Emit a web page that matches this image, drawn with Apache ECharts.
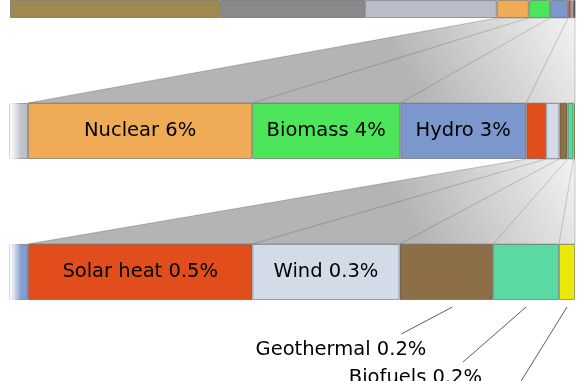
<!DOCTYPE html>
<html>
<head>
<meta charset="utf-8">
<script src="https://cdn.jsdelivr.net/npm/echarts@6/dist/echarts.min.js"></script>
<style>
html,body{margin:0;padding:0;background:#fff;}
#c{width:587px;height:381px;}
</style>
</head>
<body>
<div id="c"></div>
<script>
// ---- data ----
const categories = ['Oil', 'Coal', 'Natural gas', 'Nuclear', 'Biomass', 'Hydro', 'Solar heat', 'Wind', 'Geothermal', 'Biofuels', 'Solar PV'];
const shares = [38.2, 26.1, 23.9, 5.8, 3.83, 3.26, 0.518, 0.34, 0.216, 0.152, 0.037];
const shareLabels = ['', '', '', '6%', '4%', '3%', '0.5%', '0.3%', '0.2%', '0.2%', '0.04%'];
const colors = ['#a0894f', '#898989', '#b9bdc7', '#efab55', '#4de55a', '#7b97cb', '#e24e1b', '#d3dbe9', '#8d6f47', '#5bd9a2', '#ebe90b'];

// ---- layout / style ----
const GRID_LEFT = 10, GRID_WIDTH = 565;
const LEAD_RATIO = 18 / 547;
const bars = [
  { top: -10, height: 28, startCat: 0, labelled: [] },
  { top: 103, height: 56, startCat: 3, labelled: [3, 4, 5] },
  { top: 244, height: 56, startCat: 6, labelled: [6, 7] }
];
const leaders = [
  { cat: 8, shift: 6, dx: -51, dy: 27, tx: 25, ty: 16, text: true },
  { cat: 9, shift: 0, dx: -63, dy: 55, tx: 19, ty: 16, text: true },
  { cat: 10, shift: 0, dx: -57, dy: 92, tx: 19, ty: 16, text: false }
];
const FONT = '"DejaVu Sans", sans-serif';
const FSIZE = 19.5;

const cum = [0];
shares.forEach((v, i) => cum.push(cum[i] + v));
const total = cum[cum.length - 1];

const chart = echarts.init(document.getElementById('c'), null, { renderer: 'canvas' });

const grids = [], xAxes = [], yAxes = [], series = [];
bars.forEach((b, g) => {
  grids.push({ left: GRID_LEFT, width: GRID_WIDTH, top: b.top, height: b.height, containLabel: false });
  let min = 0;
  if (b.startCat > 0) {
    const start = cum[b.startCat];
    min = start - (total - start) * LEAD_RATIO;
  }
  xAxes.push({ type: 'value', gridIndex: g, min: min, max: total, show: false });
  yAxes.push({ type: 'category', gridIndex: g, data: ['share'], show: false, boundaryGap: true });
  categories.forEach((name, i) => {
    const lab = b.labelled.indexOf(i) >= 0;
    series.push({
      type: 'bar', name: name, xAxisIndex: g, yAxisIndex: g, stack: 's' + g,
      data: [shares[i]], barWidth: '100%', barCategoryGap: '0%', clip: true,
      silent: true, animation: false,
      itemStyle: { color: colors[i], borderColor: 'rgba(0,0,0,0.33)', borderWidth: 1 },
      label: {
        show: lab, position: 'inside', formatter: name + ' ' + shareLabels[i],
        color: '#000', fontSize: FSIZE, fontFamily: FONT, textBorderWidth: 0
      }
    });
  });
});

chart.setOption({
  animation: false,
  backgroundColor: '#fff',
  grid: grids, xAxis: xAxes, yAxis: yAxes, series: series
});

// ---- zoom trapezoids, fades and leader lines (positions from the axes) ----
const px = (g, v) => chart.convertToPixel({ xAxisIndex: g }, v);
const els = [];
for (let g = 1; g < bars.length; g++) {
  const up = bars[g - 1], lo = bars[g];
  const s = lo.startCat;
  const nextStart = g + 1 < bars.length ? bars[g + 1].startCat : categories.length - 1;
  const yU = up.top + up.height, yL = lo.top;
  const pts = [[px(g - 1, cum[s]), yU], [px(g - 1, total), yU], [px(g, total), yL], [px(g, cum[s]), yL]];
  els.push({
    type: 'polygon', z: 1, silent: true,
    shape: { points: pts },
    style: {
      fill: { type: 'linear', x: 1, y: 0, x2: 0.72, y2: 1,
        colorStops: [{ offset: 0, color: '#f3f3f3' }, { offset: 1, color: '#b4b4b4' }] },
      stroke: 'rgba(0,0,0,0.2)', lineWidth: 1
    }
  });
  for (let i = s; i < nextStart; i++) {
    const v = cum[i + 1];
    els.push({
      type: 'line', z: 2, silent: true,
      shape: { x1: px(g - 1, v), y1: yU, x2: px(g, v), y2: yL },
      style: { stroke: 'rgba(0,0,0,0.17)', lineWidth: 1 }
    });
  }
  // faded lead-in strip on the left of the zoomed bar
  const x0 = GRID_LEFT, x1 = px(g, cum[s]);
  els.push({
    type: 'rect', z: 100, silent: true,
    shape: { x: x0, y: lo.top - 1, width: x1 - x0, height: lo.height + 2 },
    style: {
      fill: { type: 'linear', x: 0, y: 0, x2: 1, y2: 0,
        colorStops: [{ offset: 0, color: 'rgba(255,255,255,1)' }, { offset: 0.2, color: 'rgba(255,255,255,0.75)' }, { offset: 0.6, color: 'rgba(255,255,255,0.1)' }, { offset: 1, color: 'rgba(255,255,255,0)' }] }
    }
  });
}
const lastG = bars.length - 1, lastBar = bars[lastG];
leaders.forEach(L => {
  const cx = px(lastG, (cum[L.cat] + cum[L.cat + 1]) / 2) + L.shift;
  const y0 = lastBar.top + lastBar.height + 7;
  const ex = cx + L.dx, ey = y0 + L.dy;
  els.push({
    type: 'line', z: 5, silent: true,
    shape: { x1: cx, y1: y0, x2: ex, y2: ey },
    style: { stroke: '#4a4a4a', lineWidth: 0.9 }
  });
  if (L.text) {
    els.push({
      type: 'text', z: 5, silent: true, x: ex + L.tx, y: ey + L.ty,
      style: {
        text: categories[L.cat] + ' ' + shareLabels[L.cat],
        fill: '#000', fontSize: FSIZE, fontFamily: FONT,
        align: 'right', verticalAlign: 'middle', textAlign: 'right', textVerticalAlign: 'middle'
      }
    });
  }
});
chart.setOption({ graphic: { elements: els } });
</script>
</body>
</html>
